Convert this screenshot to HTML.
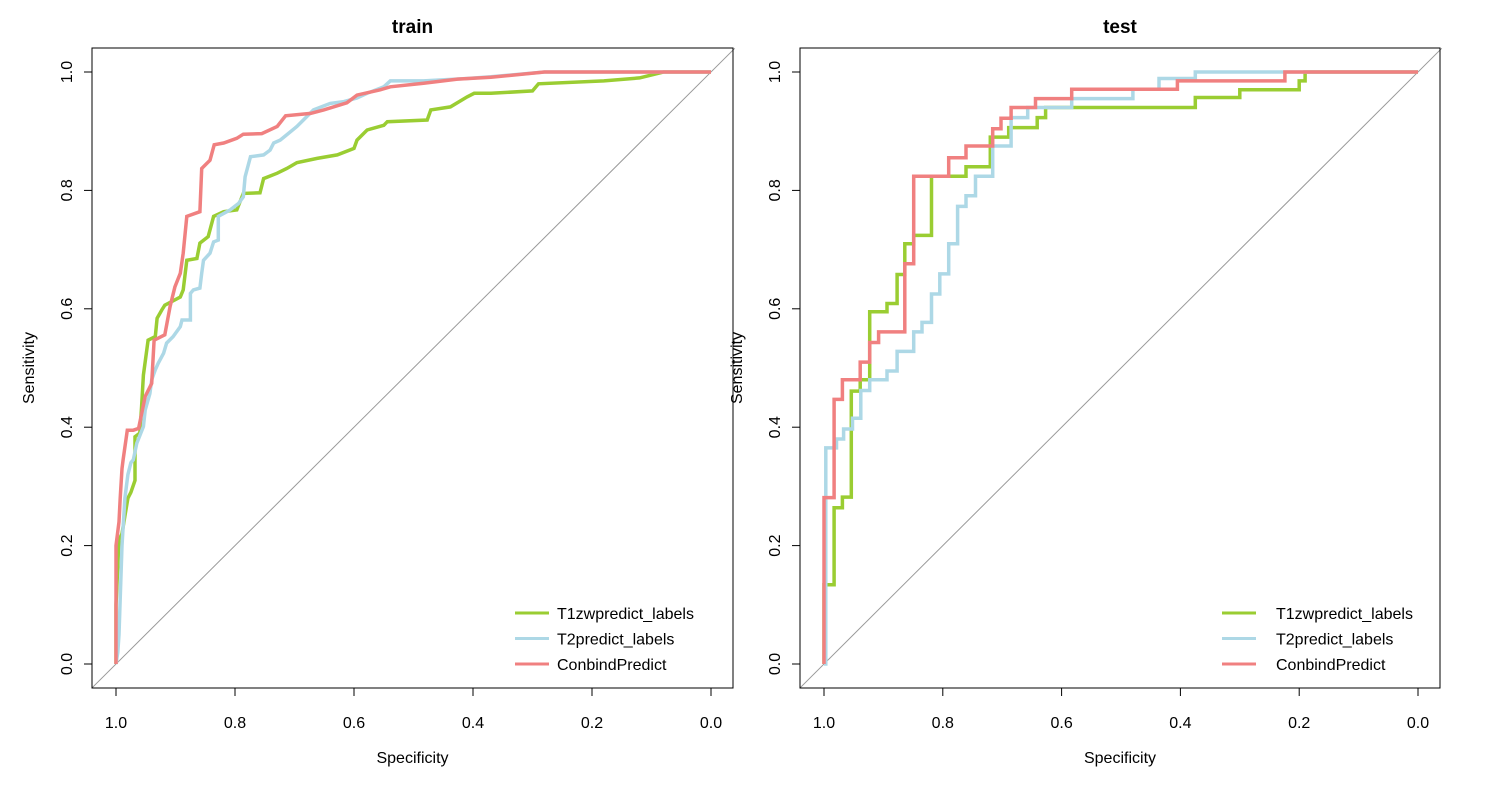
<!DOCTYPE html>
<html><head><meta charset="utf-8"><style>
body{margin:0;background:#fff;}
svg text{font-family:"Liberation Sans",Arial,sans-serif;}
</style></head><body>
<svg id="chart" width="1490" height="781" xmlns="http://www.w3.org/2000/svg"></svg>
<script>
const xTicks=[1.0,0.8,0.6,0.4,0.2,0.0];
const yTicks=[0.0,0.2,0.4,0.6,0.8,1.0];
const tickLabels=["0.0","0.2","0.4","0.6","0.8","1.0"];
const seriesNames=["T1zwpredict_labels","T2predict_labels","ConbindPredict"];
const seriesColors=["#9ACD32","#ADD8E6","#F08080"];
// train
const trainT1Spec=[1,1,0.995,0.99,0.985,0.98,0.975,0.968,0.968,0.968,0.96,0.957,0.954,0.946,0.934,0.931,0.923,0.918,0.892,0.887,0.881,0.864,0.859,0.845,0.836,0.819,0.797,0.786,0.758,0.752,0.729,0.713,0.696,0.662,0.628,0.600,0.595,0.578,0.550,0.544,0.477,0.471,0.438,0.410,0.398,0.370,0.30,0.29,0.18,0.12,0.08,0];
const trainT1Sens=[0,0.1,0.21,0.22,0.25,0.28,0.29,0.31,0.345,0.384,0.390,0.435,0.488,0.547,0.553,0.584,0.598,0.606,0.620,0.632,0.682,0.685,0.711,0.722,0.756,0.764,0.767,0.795,0.796,0.820,0.829,0.837,0.847,0.854,0.860,0.871,0.885,0.902,0.910,0.916,0.919,0.936,0.941,0.958,0.964,0.964,0.968,0.98,0.985,0.99,1.0,1.0];
const trainT2Spec=[1,0.997,0.995,0.99,0.985,0.98,0.975,0.971,0.965,0.954,0.951,0.943,0.940,0.934,0.929,0.920,0.915,0.904,0.892,0.889,0.875,0.875,0.870,0.859,0.856,0.853,0.842,0.836,0.828,0.828,0.808,0.794,0.786,0.783,0.774,0.752,0.741,0.735,0.724,0.713,0.696,0.685,0.668,0.640,0.617,0.595,0.578,0.550,0.539,0.483,0.410,0.370,0.28,0];
const trainT2Sens=[0,0.02,0.05,0.2,0.28,0.32,0.34,0.345,0.373,0.401,0.429,0.457,0.480,0.497,0.508,0.525,0.542,0.553,0.570,0.581,0.581,0.626,0.632,0.635,0.660,0.682,0.694,0.713,0.716,0.756,0.767,0.778,0.789,0.823,0.857,0.860,0.868,0.880,0.885,0.894,0.908,0.919,0.936,0.947,0.950,0.956,0.964,0.975,0.985,0.985,0.989,0.992,1.0,1.0];
const trainCbSpec=[1,1,0.995,0.993,0.99,0.988,0.981,0.971,0.962,0.951,0.940,0.936,0.918,0.909,0.901,0.892,0.887,0.881,0.859,0.856,0.842,0.835,0.819,0.797,0.786,0.755,0.729,0.715,0.673,0.651,0.612,0.595,0.556,0.539,0.483,0.426,0.370,0.28,0];
const trainCbSens=[0,0.2,0.24,0.28,0.33,0.345,0.395,0.395,0.398,0.452,0.474,0.547,0.556,0.604,0.637,0.660,0.694,0.756,0.764,0.837,0.851,0.877,0.880,0.888,0.895,0.896,0.908,0.926,0.930,0.936,0.948,0.961,0.970,0.975,0.981,0.988,0.991,1.0,1.0];
// test
const testT1Spec=[1,1,0.983,0.983,0.969,0.969,0.954,0.954,0.939,0.939,0.923,0.923,0.894,0.894,0.877,0.877,0.864,0.864,0.849,0.849,0.819,0.819,0.761,0.761,0.72,0.72,0.689,0.689,0.641,0.641,0.627,0.627,0.375,0.375,0.30,0.30,0.20,0.20,0.19,0.19,0];
const testT1Sens=[0,0.134,0.134,0.264,0.264,0.282,0.282,0.461,0.461,0.48,0.48,0.595,0.595,0.609,0.609,0.658,0.658,0.71,0.71,0.724,0.724,0.824,0.824,0.84,0.84,0.89,0.89,0.906,0.906,0.923,0.923,0.94,0.94,0.957,0.957,0.97,0.97,0.985,0.985,1.0,1.0];
const testT2Spec=[1,0.997,0.997,0.979,0.979,0.967,0.967,0.952,0.952,0.938,0.938,0.923,0.923,0.894,0.894,0.877,0.877,0.849,0.849,0.835,0.835,0.819,0.819,0.805,0.805,0.79,0.79,0.775,0.775,0.761,0.761,0.745,0.745,0.716,0.716,0.685,0.685,0.657,0.657,0.583,0.583,0.48,0.48,0.436,0.436,0.375,0.375,0];
const testT2Sens=[0,0,0.365,0.365,0.38,0.38,0.397,0.397,0.415,0.415,0.462,0.462,0.48,0.48,0.495,0.495,0.528,0.528,0.561,0.561,0.577,0.577,0.625,0.625,0.659,0.659,0.71,0.71,0.773,0.773,0.791,0.791,0.824,0.824,0.875,0.875,0.923,0.923,0.94,0.94,0.955,0.955,0.971,0.971,0.989,0.989,1.0,1.0];
const testCbSpec=[1,1,0.983,0.983,0.969,0.969,0.939,0.939,0.923,0.923,0.908,0.908,0.864,0.864,0.849,0.849,0.79,0.79,0.761,0.761,0.716,0.716,0.702,0.702,0.685,0.685,0.644,0.644,0.583,0.583,0.405,0.405,0.224,0.224,0];
const testCbSens=[0,0.281,0.281,0.447,0.447,0.48,0.48,0.51,0.51,0.543,0.543,0.561,0.561,0.676,0.676,0.824,0.824,0.855,0.855,0.875,0.875,0.904,0.904,0.922,0.922,0.94,0.94,0.955,0.955,0.971,0.971,0.985,0.985,1.0,1.0];

const NS="http://www.w3.org/2000/svg";
const svg=document.getElementById('chart');
function mk(tag,attrs,parent){const e=document.createElementNS(NS,tag);for(const k in attrs)e.setAttribute(k,attrs[k]);(parent||svg).appendChild(e);return e;}

const panels=[
 {title:"train",left:92,right:733,x1:116,x0:711,series:[[trainT1Spec,trainT1Sens],[trainT2Spec,trainT2Sens],[trainCbSpec,trainCbSens]],legX:515,ylabX:28},
 {title:"test",left:800,right:1440,x1:824,x0:1418,series:[[testT1Spec,testT1Sens],[testT2Spec,testT2Sens],[testCbSpec,testCbSens]],legX:1222,ylabX:736}
];
const yTop=48,yBottom=688,y0=664,y1=72;
panels.forEach((p,pi)=>{
  const g=mk('g',{});
  
  
  const sx=v=>p.x0+(p.x1-p.x0)*v;
  const sy=v=>y0+(y1-y0)*v;
  const d=mk('line',{x1:sx(1.04),y1:sy(-0.04),x2:sx(-0.04),y2:sy(1.04),stroke:'#999','stroke-width':1},g);
  
  
  p.series.forEach((s,si)=>{
    const pts=s[0].map((v,i)=>sx(v).toFixed(1)+','+sy(s[1][i]).toFixed(1)).join(' ');
    const pl=mk('polyline',{points:pts,fill:'none',stroke:seriesColors[si],'stroke-width':3.5,'stroke-linejoin':'miter'},g);
    
    
  });
  const b=mk('rect',{x:p.left,y:yTop,width:p.right-p.left,height:yBottom-yTop,fill:'none',stroke:'#000','stroke-width':1},g);
  
  
  const xa=mk('g',{},g);
  
  
  xTicks.forEach((v,i)=>{
    mk('line',{x1:sx(v),y1:yBottom,x2:sx(v),y2:yBottom+8,stroke:'#000'},xa);
    const t=mk('text',{x:sx(v),y:728,'font-size':16,'text-anchor':'middle'},xa);
    t.textContent=tickLabels[tickLabels.length-1-i];
    
    
  });
  const ya=mk('g',{},g);
  
  
  yTicks.forEach((v,i)=>{
    mk('line',{x1:p.left,y1:sy(v),x2:p.left-8,y2:sy(v),stroke:'#000'},ya);
    const t=mk('text',{x:0,y:0,'font-size':16,'text-anchor':'middle',transform:`translate(${p.left-20},${sy(v)}) rotate(-90)`},ya);
    t.textContent=tickLabels[i];
    
    
  });
  const tt=mk('text',{x:(p.left+p.right)/2,y:33,'font-size':19,'font-weight':'bold','text-anchor':'middle'},g);
  tt.textContent=p.title;
  
  
  const xt=mk('text',{x:(p.left+p.right)/2,y:763,'font-size':16,'text-anchor':'middle'},g);
  xt.textContent='Specificity';
  
  
  const yt=mk('text',{x:0,y:0,'font-size':16,'text-anchor':'middle',transform:`translate(${p.ylabX+6},368) rotate(-90)`},g);
  yt.textContent='Sensitivity';
  
  
  const lg=mk('g',{},g);
  
  
  seriesNames.forEach((n,i)=>{
    const y=613+i*25.5;
    const le=mk('g',{},lg);
    
    
    mk('line',{x1:p.legX,y1:y,x2:p.legX+34,y2:y,stroke:seriesColors[i],'stroke-width':3},le);
    const t=mk('text',{x:p.legX+(pi?54:42),y:y+6,'font-size':16},le);
    t.textContent=n;
  });
});
</script>
</body></html>
